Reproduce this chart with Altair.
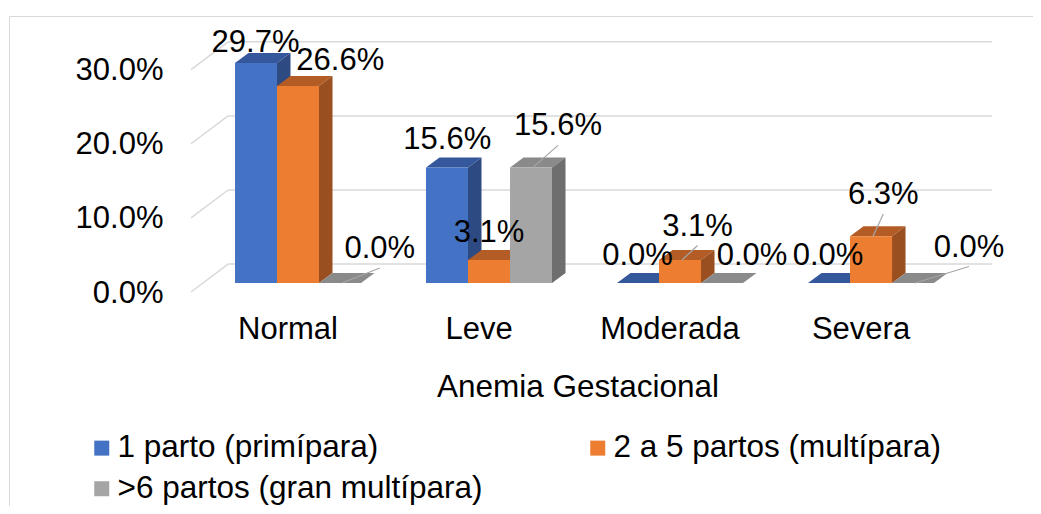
import altair as alt
import pandas as pd

# ---------------- data ----------------
categories = ["Normal", "Leve", "Moderada", "Severa"]
series = ["1 parto (primípara)", "2 a 5 partos (multípara)", ">6 partos (gran multípara)"]
primipara = [29.7, 15.6, 0.0, 0.0]
multipara = [26.6, 3.1, 3.1, 6.3]
gran_multipara = [0.0, 15.6, 0.0, 0.0]
y_ticks = [0, 10, 20, 30]

# ---------------- style / layout ----------------
FONT = "Liberation Sans"
front_colors = ["#4472c4", "#ed7d31", "#a5a5a5"]
top_colors = ["#34589b", "#b35c26", "#8a8a8a"]
side_colors = ["#2d4b82", "#9a4f20", "#6e6e6e"]
GRID_COLOR = "#d9d9d9"

PX_X = 191.0          # pixels per category step
PX_Y = 7.41           # pixels per 1 %
BAR_W = 42 / PX_X     # bar width in category units
DEPTH_X = 13.5 / PX_X
DEPTH_Y = 10 / PX_Y
WALL_Y = 2.55         # back wall offset (in %)
FLOOR_Y = -1.21       # floor front offset (in %)
WALL_X0, WALL_X1, FLOOR_X0 = -0.366, 3.634, -0.56

# label nudges in px (dx right, dy down) relative to the bar's front-top centre
label_nudge = [
    [(-0.5, -22.4), (42.3, -27.1), (39.8, -36.0)],
    [(0.3, -29.6), (0.0, -29.5), (27.0, -43.0)],
    [(-0.5, -28.8), (17.5, -35.5), (30.0, -29.0)],
    [(-1.0, -28.8), (12.3, -43.3), (56.0, -37.5)],
]
leaders = {(0, 2), (1, 2), (2, 1), (3, 1), (3, 2)}

W, H = 1024, 490
xs = alt.Scale(domain=[-1.513, 3.848], nice=False, zero=False)
ys = alt.Scale(domain=[-30.09, 36.03], nice=False, zero=False)

# ---------------- build tables ----------------
vals = [primipara, multipara, gran_multipara]
front_rows, top_rows, side_rows, label_rows, leader_rows = [], [], [], [], []
for i, cat in enumerate(categories):
    for j, s in enumerate(series):
        v = vals[j][i]
        xl = i + (j - 1.5) * BAR_W
        xr = xl + BAR_W
        xc = (xl + xr) / 2
        bid = f"{i}-{j}"
        front_rows.append(dict(j=j, series=s, xl=xl, xr=xr, y0=0.0, y1=v))
        for x, y, y2 in [(xl, v, v), (xl + DEPTH_X, v + DEPTH_Y, v),
                         (xr, v + DEPTH_Y, v), (xr + DEPTH_X, v + DEPTH_Y, v + DEPTH_Y)]:
            top_rows.append(dict(j=j, bar=bid, x=x, y=y, y2=y2, col=top_colors[j]))
        for x, y, y2 in [(xr, v, 0.0), (xr + DEPTH_X, v + DEPTH_Y, DEPTH_Y)]:
            side_rows.append(dict(j=j, bar=bid, x=x, y=y, y2=y2, col=side_colors[j]))
        ndx, ndy = label_nudge[i][j]
        lx = xc + ndx / PX_X
        ly = v - ndy / PX_Y
        label_rows.append(dict(lx=lx, ly=ly, label=f"{v:.1f}%"))
        if (i, j) in leaders:
            leader_rows.append(dict(sx=xc + 2 / PX_X, sy=v, ex=lx, ey=ly - 21 / PX_Y))

front_df = pd.DataFrame(front_rows)
top_df = pd.DataFrame(top_rows)
side_df = pd.DataFrame(side_rows)
label_df = pd.DataFrame(label_rows)
leader_df = pd.DataFrame(leader_rows)
grid_df = pd.DataFrame(dict(t=y_ticks,
                            gx0=[WALL_X0] * len(y_ticks), gx1=[WALL_X1] * len(y_ticks),
                            fx=[FLOOR_X0] * len(y_ticks),
                            gy=[t + WALL_Y for t in y_ticks],
                            fy=[t + FLOOR_Y for t in y_ticks]))

# ---------------- axes ----------------
top_axis = alt.Axis(orient="top", labels=False, ticks=False, grid=False, title=None,
                    domain=True, domainColor=GRID_COLOR, domainWidth=1)
y_axis = alt.Axis(values=y_ticks, labelExpr="format(datum.value, '.1f') + '%'",
                  ticks=False, tickSize=0, grid=False, domain=True, domainColor=GRID_COLOR,
                  domainWidth=1, labelPadding=-154, labelAlign="right",
                  labelBaseline="alphabetic", labelOffset=19, labelFontSize=31,
                  labelColor="black", labelFont=FONT, labelOverlap=False, labelFlush=False,
                  title=None)
cat_expr = "[" + ",".join(f"'{c}'" for c in categories) + "][datum.value]"
bottom_axis = alt.Axis(orient="bottom", values=list(range(len(categories))), labelExpr=cat_expr,
                       domain=False, ticks=False, tickSize=0, grid=False, offset=-206,
                       labelPadding=38, labelBaseline="alphabetic", labelOffset=-10.5,
                       labelFontSize=31, labelColor="black", labelFont=FONT,
                       labelOverlap=False, labelFlush=False,
                       title="Anemia Gestacional", titleFontSize=31.5, titleFontWeight="normal",
                       titleFont=FONT, titleColor="black", titleX=568.5, titleY=96.7,
                       titleBaseline="alphabetic", titleAlign="center")

legend = alt.Legend(orient="none", legendX=77, legendY=416, columns=2, direction="horizontal",
                    columnPadding=99, rowPadding=8, symbolType="square", symbolSize=225,
                    symbolStrokeWidth=0, labelFontSize=31.5, labelFont=FONT, labelColor="black",
                    labelOffset=0, labelLimit=1000, title=None, padding=0)

# ---------------- layers ----------------
grid = alt.Chart(grid_df).mark_rule(color=GRID_COLOR, strokeWidth=1.5).encode(
    x=alt.X("gx0:Q", scale=xs, axis=top_axis), x2="gx1:Q",
    y=alt.Y("gy:Q", scale=ys, axis=y_axis))
diag = alt.Chart(grid_df).mark_rule(color=GRID_COLOR, strokeWidth=1.5).encode(
    x=alt.X("fx:Q", scale=xs, axis=None), x2="gx0:Q",
    y=alt.Y("fy:Q", scale=ys, axis=None), y2="gy:Q")

layers = [grid, diag]
for j in range(len(series)):
    tj = top_df[top_df.j == j]
    sj = side_df[side_df.j == j]
    fj = front_df[front_df.j == j]
    layers.append(alt.Chart(tj).mark_area(interpolate="linear").encode(
        x=alt.X("x:Q", scale=xs, axis=None), y=alt.Y("y:Q", scale=ys, axis=None), y2="y2:Q",
        detail="bar:N", color=alt.Color("col:N", scale=None)))
    layers.append(alt.Chart(sj).mark_area(interpolate="linear").encode(
        x=alt.X("x:Q", scale=xs, axis=None), y=alt.Y("y:Q", scale=ys, axis=None), y2="y2:Q",
        detail="bar:N", color=alt.Color("col:N", scale=None)))
    layers.append(alt.Chart(fj).mark_rect().encode(
        x=alt.X("xl:Q", scale=xs, axis=bottom_axis if j == 0 else None), x2="xr:Q",
        y=alt.Y("y0:Q", scale=ys, axis=None), y2="y1:Q",
        color=alt.Color("series:N", scale=alt.Scale(domain=series, range=front_colors),
                        legend=legend)))

leader_layer = alt.Chart(leader_df).mark_rule(color="#a6a6a6", strokeWidth=1.2).encode(
    x=alt.X("sx:Q", scale=xs, axis=None), x2="ex:Q",
    y=alt.Y("sy:Q", scale=ys, axis=None), y2="ey:Q")
labels = alt.Chart(label_df).mark_text(font=FONT, fontSize=31, color="black",
                                       baseline="alphabetic", align="center", dy=11).encode(
    x=alt.X("lx:Q", scale=xs, axis=None), y=alt.Y("ly:Q", scale=ys, axis=None),
    text="label:N")
layers += [leader_layer, labels]

chart = alt.layer(*layers).resolve_axis(x="independent", y="independent").properties(
    width=W, height=H,
    padding={"left": 1, "top": 8, "right": 0, "bottom": 0},
    autosize=alt.AutoSizeParams(type="none"),
    background="white",
).configure(font=FONT).configure_view(strokeWidth=0)

chart.save("out.html", embed_options={"renderer": "svg", "actions": False})
